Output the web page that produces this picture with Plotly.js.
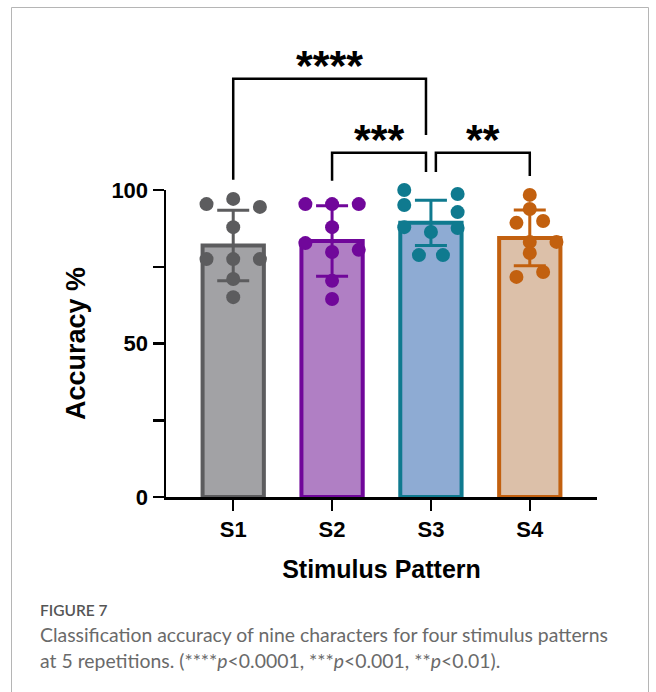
<!DOCTYPE html>
<html><head><meta charset="utf-8">
<script src="https://cdn.plot.ly/plotly-3.0.1.min.js"></script>
<style>html,body{margin:0;padding:0;background:#fff}#chart{width:656px;height:692px}</style>
</head><body><div id="chart"></div>
<script>
// ---- data ----
const categories = ['S1', 'S2', 'S3', 'S4'];
const meanAccuracy = [81.9, 83.4, 89.3, 84.4];
const sdAccuracy = [11.5, 11.5, 7.4, 9.1];
const s1Points = [95.4, 97.1, 94.5, 87.9, 77.5, 77.5, 77.5, 71.0, 65.1];
const s2Points = [95.4, 95.4, 95.4, 87.9, 82.7, 80.5, 79.8, 70.4, 64.5];
const s3Points = [100.0, 95.1, 98.7, 92.8, 87.9, 86.3, 87.6, 78.8, 78.8];
const s4Points = [98.4, 93.8, 89.3, 89.9, 83.1, 83.1, 79.5, 71.7, 73.3];
const yTickVals = [0, 50, 100];
const yMinorVals = [25, 75];
const comparisons = [
  {a: 0, b: 2, label: '****'},
  {a: 1, b: 2, label: '***'},
  {a: 2, b: 3, label: '**'}
];

// ---- layout / styling ----
const pointSets = [s1Points, s2Points, s3Points, s4Points];
const pointCols = [
  [-1, 0, 1, 0, -1, 0, 1, 0, 0],
  [-1, 0, 1, 0, -1, 1, 0, 0, 0],
  [-1, -1, 1, 1, -1, 0, 1, -0.45, 0.45],
  [0, 0, -0.5, 0.5, 1, 0, 0, -0.5, 0.5]
];
const colSpread = 0.27;
const fills = ['#a2a2a5', '#b07fc4', '#8eabd3', '#dcc0a9'];
const lines = ['#5c5c5e', '#70079a', '#0f7a8f', '#c2600f'];
const bracketGeom = [
  {n0: 0, n1: -0.05, top: 136.2, leg0: 103.3, leg1: 117.9, labY: 142.3},
  {n0: 0, n1: -0.05, top: 112.1, leg0: 103.0, leg1: 105.9, labY: 118.2},
  {n0: 0.05, n1: 0, top: 112.1, leg0: 105.9, leg1: 104.6, labY: 118.2}
];

const xr = [-0.68, 3.68], yr = [0, 100];
const L = 166, T = 190, W = 431, H = 307;
const px = x => (x - L) / W;
const py = y => (T + H - y) / H;
const xPaper = v => (v - xr[0]) / (xr[1] - xr[0]);
const yPaper = v => (v - yr[0]) / (yr[1] - yr[0]);

const bold = {family: 'Liberation Sans, Arial, sans-serif', weight: 700, color: '#000'};

const traces = [];
categories.forEach((c, i) => {
  traces.push({
    type: 'bar', x: [i], y: [meanAccuracy[i]], width: 0.62, name: c,
    marker: {color: fills[i], line: {color: lines[i], width: 4}},
    error_y: {type: 'data', array: [sdAccuracy[i]], visible: true, color: lines[i], thickness: 3, width: 16},
    hoverinfo: 'y', cliponaxis: false
  });
});
categories.forEach((c, i) => {
  traces.push({
    type: 'scatter', mode: 'markers', name: c + ' points',
    x: pointSets[i].map((v, k) => i + pointCols[i][k] * colSpread),
    y: pointSets[i],
    marker: {size: 14, color: lines[i]},
    cliponaxis: false, hoverinfo: 'y'
  });
});

const shapes = [
  {type: 'rect', xref: 'paper', yref: 'paper', x0: px(11.5), x1: px(648.5), y0: py(7.5), y1: py(760),
   line: {color: '#b5b5b5', width: 1}, fillcolor: 'rgba(0,0,0,0)', layer: 'below'}
];
const annotations = [];
comparisons.forEach((cmp, j) => {
  const g = bracketGeom[j];
  const x0 = xPaper(cmp.a + g.n0), x1 = xPaper(cmp.b + g.n1);
  shapes.push({type: 'path', xref: 'paper', yref: 'paper',
    path: `M ${x0},${yPaper(g.leg0)} L ${x0},${yPaper(g.top)} L ${x1},${yPaper(g.top)} L ${x1},${yPaper(g.leg1)}`,
    line: {color: '#000', width: 2.5}});
  annotations.push({xref: 'paper', yref: 'paper', x: (x0 + x1) / 2, y: yPaper(g.labY), text: cmp.label,
    showarrow: false, xanchor: 'center', yanchor: 'middle', yshift: -5,
    font: Object.assign({}, bold, {size: 43})});
});
annotations.push({xref: 'paper', yref: 'paper', x: px(38), y: py(610), xanchor: 'left', yanchor: 'middle',
  text: 'FIGURE 7', showarrow: false, font: {family: 'Lato, sans-serif', size: 15.5, color: '#555', weight: 600}});
annotations.push({xref: 'paper', yref: 'paper', x: px(38), y: py(634), xanchor: 'left', yanchor: 'middle',
  text: 'Classification accuracy of nine characters for four stimulus patterns', showarrow: false,
  font: {family: 'Lato, sans-serif', size: 19.4, color: '#6a6a6a'}});
annotations.push({xref: 'paper', yref: 'paper', x: px(38), y: py(660), xanchor: 'left', yanchor: 'middle',
  text: 'at 5 repetitions. (****<i>p</i>&lt;0.0001, ***<i>p</i>&lt;0.001, **<i>p</i>&lt;0.01).', showarrow: false,
  font: {family: 'Lato, sans-serif', size: 19.4, color: '#6a6a6a'}});

const layout = {
  width: 656, height: 692,
  margin: {l: L, r: 656 - L - W, t: T, b: 692 - T - H, pad: 0},
  paper_bgcolor: '#fff', plot_bgcolor: '#fff',
  showlegend: false, barmode: 'overlay',
  xaxis: {
    range: xr, tickvals: categories.map((c, i) => i), ticktext: categories,
    showgrid: false, zeroline: false, showline: true, linecolor: '#000', linewidth: 2.5,
    ticks: 'outside', ticklen: 11, tickwidth: 2.5, tickcolor: '#000',
    tickfont: Object.assign({}, bold, {size: 22}),
    title: {text: 'Stimulus Pattern', font: Object.assign({}, bold, {size: 25}), standoff: 20},
    automargin: false, fixedrange: true
  },
  yaxis: {
    range: yr, tickvals: yTickVals, ticktext: yTickVals.map(String),
    minor: {tickvals: yMinorVals, ticks: 'outside', ticklen: 11, tickwidth: 2.5, tickcolor: '#000', showgrid: false},
    showgrid: false, zeroline: false, showline: true, linecolor: '#000', linewidth: 2.5,
    ticks: 'outside', ticklen: 11, tickwidth: 2.5, tickcolor: '#000',
    tickfont: Object.assign({}, bold, {size: 22}),
    title: {text: 'Accuracy %', font: Object.assign({}, bold, {size: 27}), standoff: 18},
    automargin: false, fixedrange: true
  },
  shapes: shapes, annotations: annotations
};

Plotly.newPlot('chart', traces, layout, {displayModeBar: false, staticPlot: true});
</script></body></html>
